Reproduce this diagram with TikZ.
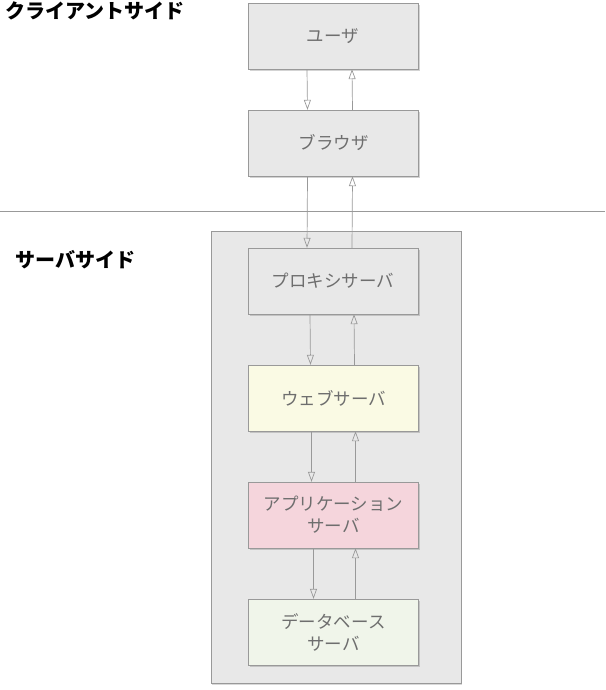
\documentclass[tikz,border=0pt]{standalone}
\usepackage{fontspec}
\setmainfont{Noto Sans CJK JP}
\usepackage{tikz}
\usetikzlibrary{arrows.meta,positioning,shadows}
\definecolor{boxgray}{HTML}{E8E8E8}
\definecolor{linegray}{HTML}{999999}
\definecolor{textgray}{HTML}{6E6E6E}
\definecolor{webfill}{HTML}{FAFAE4}
\definecolor{appfill}{HTML}{F5D5DC}
\definecolor{dbfill}{HTML}{F0F5EA}
\tikzset{>={Triangle[open,length=10pt,width=7pt]},
    tier/.style={draw=linegray, fill=boxgray, minimum width=170pt, minimum height=66pt,
        align=center, text=textgray, font=\fontsize{17.5}{22}\selectfont,
        drop shadow={shadow xshift=1.5pt, shadow yshift=-2pt, opacity=0.35}},
    flow/.style={->, draw=linegray, line width=0.7pt},
    side/.style={font=\fontsize{20}{22}\selectfont\bfseries, anchor=west}}

\begin{document}
\begin{tikzpicture}[x=1pt, y=-1pt]
    \useasboundingbox (0,0) rectangle (605,690);
    % client side
    \node[side] (client) at (2,11) {クライアントサイド};
    \node[tier] (user) at (333,36) {ユーザ};
    \node[tier] (browser) at (333.5,143) {ブラウザ};
    \draw[linegray, line width=0.5pt] (0,211) -- (605,211);

    % server side
    \node[side] (server) at (12,260) {サーバサイド};
    \node[draw=linegray, fill=boxgray, minimum width=250pt, minimum height=452pt,
        drop shadow={shadow xshift=1pt, shadow yshift=-1.5pt, opacity=0.3}] (back) at (336,457) {};
    \node[tier] (proxy) at (333,281) {プロキシサーバ};
    \node[tier, fill=webfill] (web) at (333.5,398) {ウェブサーバ};
    \node[tier, fill=appfill] (app) at (333.5,515) {アプリケーション\\サーバ};
    \node[tier, fill=dbfill] (db) at (333.5,632) {データベース\\サーバ};

    \draw[flow] ([xshift=-26pt]user.south) -- ([xshift=-26pt]browser.north);
    \draw[flow] ([xshift=19pt]browser.north) -- ([xshift=19pt]user.south);
    \draw[flow] ([xshift=-26pt]browser.south) -- ([xshift=-26pt]proxy.north);
    \draw[flow] ([xshift=19pt]proxy.north) -- ([xshift=19pt]browser.south);
    \draw[flow] ([xshift=-23pt]proxy.south) -- ([xshift=-23pt]web.north);
    \draw[flow] ([xshift=21pt]web.north) -- ([xshift=21pt]proxy.south);
    \draw[flow] ([xshift=-22pt]web.south) -- ([xshift=-22pt]app.north);
    \draw[flow] ([xshift=22pt]app.north) -- ([xshift=22pt]web.south);
    \draw[flow] ([xshift=-20pt]app.south) -- ([xshift=-20pt]db.north);
    \draw[flow] ([xshift=22pt]db.north) -- ([xshift=22pt]app.south);
\end{tikzpicture}
\end{document}
